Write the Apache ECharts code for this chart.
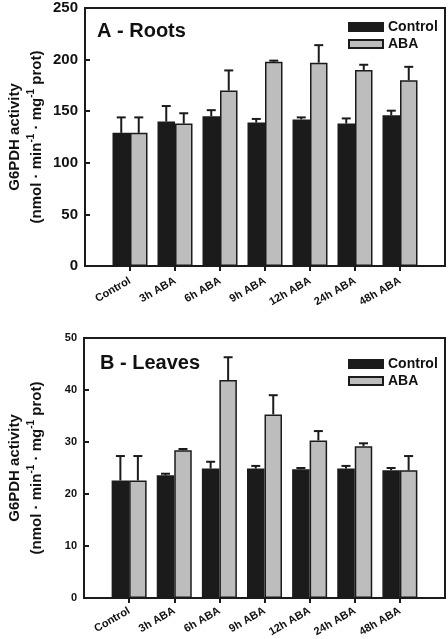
<!DOCTYPE html>
<html>
<head>
<meta charset="utf-8">
<script src="https://cdn.jsdelivr.net/npm/echarts@6/dist/echarts.min.js"></script>
<style>
html,body{margin:0;padding:0;background:#fff;}
#c{width:448px;height:639px;}
</style>
</head>
<body>
<div id="c"></div>
<script>
// ---- data ----
const categories = ['Control', '3h ABA', '6h ABA', '9h ABA', '12h ABA', '24h ABA', '48h ABA'];
const seriesNames = ['Control', 'ABA'];

const rootsControl    = [129, 140, 145, 139, 142, 138, 146];
const rootsControlErr = [15, 15, 6, 3.5, 2, 5, 4.5];
const rootsABA        = [129, 138, 170, 198, 197, 190, 180];
const rootsABAErr     = [15, 10, 19.5, 1, 17, 5, 13];

const leavesControl    = [22.6, 23.6, 24.9, 24.9, 24.75, 24.9, 24.55];
const leavesControlErr = [4.7, 0.3, 1.3, 0.5, 0.25, 0.5, 0.45];
const leavesABA        = [22.6, 28.4, 41.9, 35.3, 30.3, 29.2, 24.55];
const leavesABAErr     = [4.7, 0.25, 4.4, 3.7, 1.8, 0.55, 2.75];

const rootsTicks  = {min: 0, max: 250, interval: 50};
const leavesTicks = {min: 0, max: 50, interval: 10};

// ---- build ----
const paddedCats = [''].concat(categories, ['']);
const pad = arr => [null].concat(arr, [null]);
const errData = (vals, errs) => vals.map((v, i) => [i + 1, v, errs[i]]);

const DARK = '#1b1b1b';
const GRAY = '#bdbdbd';
const BAR_W = 17.5;
const FONT = '"Liberation Sans", Arial, sans-serif';

function errSeries(name, xi, yi, vals, errs, side) {
  return {
    type: 'custom', name: name, xAxisIndex: xi, yAxisIndex: yi,
    data: errData(vals, errs), encode: {x: 0, y: 1}, z: 5, silent: true,
    renderItem: function (params, api) {
      const x = api.value(0), v = api.value(1), e = api.value(2);
      const b = api.coord([x, v]);
      const t = api.coord([x, v + e]);
      const cx = b[0] + side * BAR_W / 2;
      const st = {stroke: DARK, lineWidth: 2};
      return {type: 'group', children: [
        {type: 'line', shape: {x1: cx, y1: b[1], x2: cx, y2: t[1]}, style: st},
        {type: 'line', shape: {x1: cx - 4.5, y1: t[1], x2: cx + 4.5, y2: t[1]}, style: st}
      ]};
    }
  };
}

function xAxisCfg(gi, margin) {
  return {
    type: 'category', gridIndex: gi, data: paddedCats, boundaryGap: false,
    axisLine: {show: true, lineStyle: {color: DARK, width: 2}},
    axisTick: {show: true, inside: false, length: 5, lineStyle: {color: DARK, width: 2},
      interval: function (i) { return i > 0 && i < paddedCats.length - 1; }},
    axisLabel: {interval: 0, rotate: 30, margin: margin, fontSize: 11, fontWeight: 'bold',
      color: '#111', fontFamily: FONT},
    splitLine: {show: false}
  };
}

const nameText = 'G6PDH activity\n(nmol · min{sup|-1} · mg{sup|-1} prot)';
function yAxisCfg(gi, ticks, labelSize, gap) {
  return {
    type: 'value', gridIndex: gi, min: ticks.min, max: ticks.max, interval: ticks.interval,
    axisLine: {show: true, lineStyle: {color: DARK, width: 2}},
    axisTick: {show: true, inside: true, length: 5, lineStyle: {color: DARK, width: 2}},
    axisLabel: {fontSize: labelSize, fontWeight: 'bold', color: '#111', margin: 7, fontFamily: FONT},
    splitLine: {show: false},
    name: nameText, nameLocation: 'middle', nameGap: gap, nameRotate: 90, nameMoveOverlap: false,
    nameTextStyle: {fontSize: 15, fontWeight: 'bold', color: '#111', lineHeight: 22, fontFamily: FONT,
      rich: {sup: {fontSize: 10, fontWeight: 'bold', color: '#111', verticalAlign: 'top', lineHeight: 14, fontFamily: FONT}}}
  };
}

function barSeries(name, xi, yi, vals, color) {
  return {
    type: 'bar', name: name, xAxisIndex: xi, yAxisIndex: yi, data: pad(vals),
    barWidth: BAR_W, barGap: '0%',
    itemStyle: {color: color, borderColor: DARK, borderWidth: 1.5}
  };
}

function legendCfg(top) {
  return {
    data: seriesNames, orient: 'vertical', left: 343, top: top,
    itemWidth: 34, itemHeight: 8, itemGap: 3, icon: 'rect',
    textStyle: {fontSize: 14, fontWeight: 'bold', color: '#111', fontFamily: FONT}
  };
}

const gridBase = {right: 3, show: true, borderColor: DARK, borderWidth: 2, backgroundColor: 'transparent',
  containLabel: false, outerBoundsMode: 'none'};

const option = {
  animation: false,
  backgroundColor: '#fff',
  title: [
    {text: 'A - Roots', left: 92, top: 16, textStyle: {fontSize: 20, fontWeight: 'bold', color: '#111', fontFamily: FONT}},
    {text: 'B - Leaves', left: 95, top: 348, textStyle: {fontSize: 20, fontWeight: 'bold', color: '#111', fontFamily: FONT}}
  ],
  legend: [legendCfg(15), legendCfg(352)],
  grid: [
    Object.assign({left: 85, top: 8, height: 258}, gridBase),
    Object.assign({left: 84, top: 338, height: 260}, gridBase)
  ],
  xAxis: [xAxisCfg(0, 14), xAxisCfg(1, 12)],
  yAxis: [yAxisCfg(0, rootsTicks, 15, 37), yAxisCfg(1, leavesTicks, 11, 36)],
  series: [
    barSeries('Control', 0, 0, rootsControl, DARK),
    barSeries('ABA', 0, 0, rootsABA, GRAY),
    errSeries('errA1', 0, 0, rootsControl, rootsControlErr, -1),
    errSeries('errA2', 0, 0, rootsABA, rootsABAErr, 1),
    barSeries('Control', 1, 1, leavesControl, DARK),
    barSeries('ABA', 1, 1, leavesABA, GRAY),
    errSeries('errB1', 1, 1, leavesControl, leavesControlErr, -1),
    errSeries('errB2', 1, 1, leavesABA, leavesABAErr, 1)
  ]
};

const chart = echarts.init(document.getElementById('c'), null, {renderer: 'canvas'});
chart.setOption(option);
</script>
</body>
</html>
